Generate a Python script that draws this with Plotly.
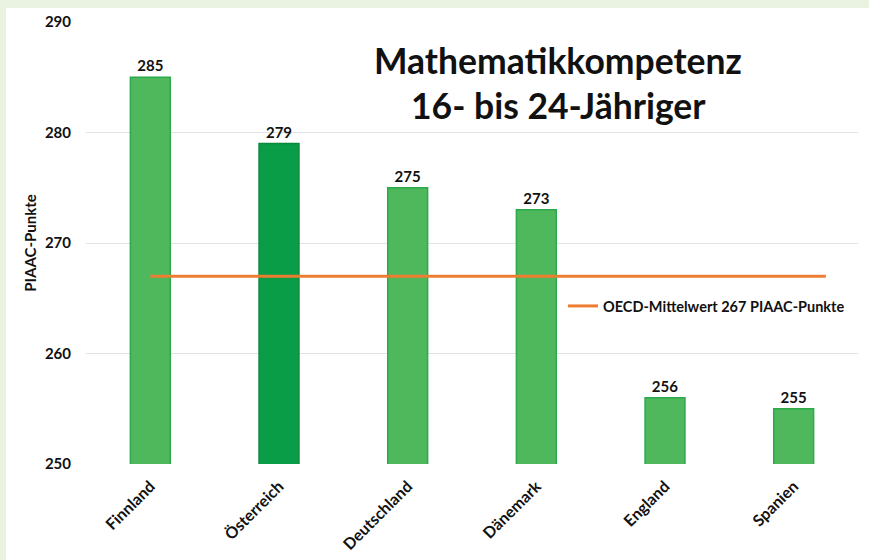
import plotly.graph_objects as go

countries = ["Finnland", "Österreich", "Deutschland", "Dänemark", "England", "Spanien"]
scores = [285, 279, 275, 273, 256, 255]
highlight = "Österreich"
oecd_mean = 267
oecd_label = "OECD-Mittelwert 267 PIAAC-Punkte"
oecd_span = [0, 5.25]  # category positions the reference line spans
title_lines = ["Mathematikkompetenz", "16- bis 24-Jähriger"]
y_title = "PIAAC-Punkte"
y_ticks = [250, 260, 270, 280, 290]

FONT = "Lato, 'Open Sans', sans-serif"
LIGHT = "#4FB85C"
DARK = "#0A9D48"

fill = [DARK if c == highlight else LIGHT for c in countries]
edge = ["#078A3D" if c == highlight else "#2BAA4B" for c in countries]

fig = go.Figure()
fig.add_trace(go.Bar(
    x=countries, y=scores,
    marker=dict(color=fill, line=dict(color=edge, width=1.5)),
    text=[str(v) for v in scores], textposition="outside",
    textfont=dict(family=FONT, size=15, color="#111", weight="bold"),
    cliponaxis=False, showlegend=False, width=0.31,
))
fig.add_trace(go.Scatter(
    x=oecd_span, y=[oecd_mean, oecd_mean], xaxis="x2", mode="lines",
    line=dict(color="#ED7D31", width=3), name=oecd_label, showlegend=True,
))

W, H = 869, 560
L, R, T, B = 86, 11, 22, 96
pw, ph = W - L - R, H - T - B

def px(x):
    return (x - L) / pw

def py(y):
    return (H - B - y) / ph

fig.update_layout(
    width=W, height=H,
    margin=dict(l=L, r=R, t=T, b=B, pad=0, autoexpand=False),
    paper_bgcolor="#EAF2E1", plot_bgcolor="rgba(0,0,0,0)",
    font=dict(family=FONT, color="#111"),
    showlegend=True,
    legend=dict(x=px(563), y=py(306), xanchor="left", yanchor="middle",
                bgcolor="rgba(0,0,0,0)", itemwidth=30,
                font=dict(family=FONT, size=14.5, color="#111", weight="bold")),
    xaxis=dict(type="category", range=[-0.5, 5.5], tickangle=-45,
               tickfont=dict(family=FONT, size=16, color="#111", weight="bold"),
               ticklabelstandoff=9, automargin=False,
               showgrid=False, showline=False, ticks=""),
    xaxis2=dict(overlaying="x", range=[-0.5, 5.5], visible=False),
    yaxis=dict(range=[250, 290], tickvals=y_ticks, showgrid=True,
               gridcolor="#E2E2E2", gridwidth=1, zeroline=False, automargin=False,
               tickfont=dict(family=FONT, size=15, color="#111", weight="bold"),
               ticklabelstandoff=14,
               title=dict(text=y_title, standoff=4,
                          font=dict(family=FONT, size=15, color="#111", weight="bold"))),
    bargap=0.69,
    shapes=[dict(type="rect", xref="paper", yref="paper", layer="below",
                 x0=px(6), x1=px(W + 5), y0=py(H + 5), y1=py(8),
                 fillcolor="white", line=dict(width=0))],
    annotations=[
        dict(text=title_lines[0], xref="paper", yref="paper", x=px(558), y=py(60),
             showarrow=False, xanchor="center", yanchor="middle",
             font=dict(family=FONT, size=35.5, color="#111", weight="bold")),
        dict(text=title_lines[1], xref="paper", yref="paper", x=px(558), y=py(105),
             showarrow=False, xanchor="center", yanchor="middle",
             font=dict(family=FONT, size=35.5, color="#111", weight="bold")),
    ],
)

fig.write_html("out.html", config={"displayModeBar": False},
               post_script="document.body.style.margin='0';")
